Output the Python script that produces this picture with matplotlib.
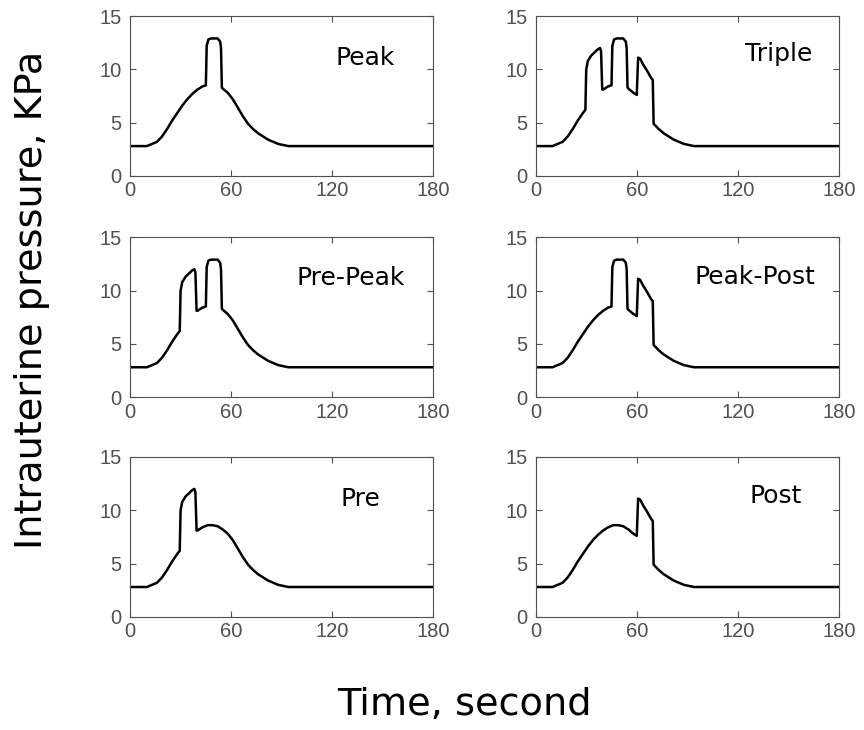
import matplotlib
matplotlib.use("Agg")
import matplotlib.pyplot as plt

# base contraction curve (time in s, pressure in KPa)
base_t = [0, 10, 13, 16, 19, 22, 25, 28, 31, 34, 37, 40, 43, 46, 49, 52, 55, 58,
          61, 64, 67, 70, 73, 76, 79, 82, 85, 88, 91, 94, 180]
base_p = [2.8, 2.8, 3.0, 3.2, 3.7, 4.4, 5.2, 5.9, 6.6, 7.2, 7.7, 8.1, 8.4, 8.6,
          8.6, 8.5, 8.2, 7.8, 7.2, 6.4, 5.6, 4.9, 4.4, 4.0, 3.7, 3.4, 3.2, 3.0,
          2.9, 2.8, 2.8]

# superimposed pulses
pre_t = [29.5, 30, 31, 33, 35, 37, 38.2, 38.8, 39.5]
pre_p = [6.2, 10.0, 10.8, 11.3, 11.6, 11.9, 12.0, 11.7, 8.1]
peak_t = [45, 45.5, 46.5, 48, 52, 53.5, 54, 54.5]
peak_p = [8.5, 12.2, 12.8, 12.9, 12.9, 12.6, 12.0, 8.3]
post_t = [60, 60.8, 62, 64, 66, 68.5, 69.5, 70]
post_p = [7.6, 11.1, 11.0, 10.4, 9.9, 9.2, 9.0, 4.9]

panels = ["Peak", "Triple", "Pre-Peak", "Peak-Post", "Pre", "Post"]
pulses = {"Peak": ["peak"], "Triple": ["pre", "peak", "post"],
          "Pre-Peak": ["pre", "peak"], "Peak-Post": ["peak", "post"],
          "Pre": ["pre"], "Post": ["post"]}
segs = {"pre": (pre_t, pre_p), "peak": (peak_t, peak_p), "post": (post_t, post_p)}
label_pos = {"Peak": (122, 10.4), "Triple": (124, 10.8), "Pre-Peak": (99, 10.55),
             "Peak-Post": (94, 10.65), "Pre": (125, 10.4), "Post": (127, 10.65)}


def build(names):
    t, p = [], []
    segl = [segs[n] for n in names]
    for bt, bp in zip(base_t, base_p):
        if any(st[0] <= bt <= st[-1] for st, sp in segl):
            continue
        t.append(bt)
        p.append(bp)
    for st, sp in segl:
        t.extend(st)
        p.extend(sp)
    pts = sorted(zip(t, p), key=lambda a: a[0])
    return [a[0] for a in pts], [a[1] for a in pts]


fig = plt.figure(figsize=(8.64, 7.3), dpi=100)
lefts = [0.1505, 0.620]
bottoms = [0.759, 0.456, 0.155]
grey = "#505050"

for i, name in enumerate(panels):
    ax = fig.add_axes([lefts[i % 2], bottoms[i // 2], 0.351, 0.219])
    t, p = build(pulses[name])
    ax.plot(t, p, color="black", lw=1.8)
    ax.set_xlim(0, 180)
    ax.set_ylim(0, 15)
    ax.set_xticks([0, 60, 120, 180])
    ax.set_yticks([0, 5, 10, 15])
    ax.tick_params(direction="in", top=True, right=True, length=4,
                   labelsize=14.5, labelcolor=grey, color=grey)
    ax.tick_params(axis="y", pad=6)
    ax.tick_params(axis="x", pad=4)
    for lab in ax.get_xticklabels() + ax.get_yticklabels():
        lab.set_family("Liberation Sans")
    for s in ax.spines.values():
        s.set_color(grey)
    ax.text(*label_pos[name], name, fontsize=18, color="black")

fig.text(0.0376, 0.589, "Intrauterine pressure, KPa", rotation=90, fontsize=27.5,
         ha="center", va="center")
fig.text(0.538, 0.034, "Time, second", fontsize=27.5, ha="center", va="center")

fig.savefig("out.png", dpi=100)
